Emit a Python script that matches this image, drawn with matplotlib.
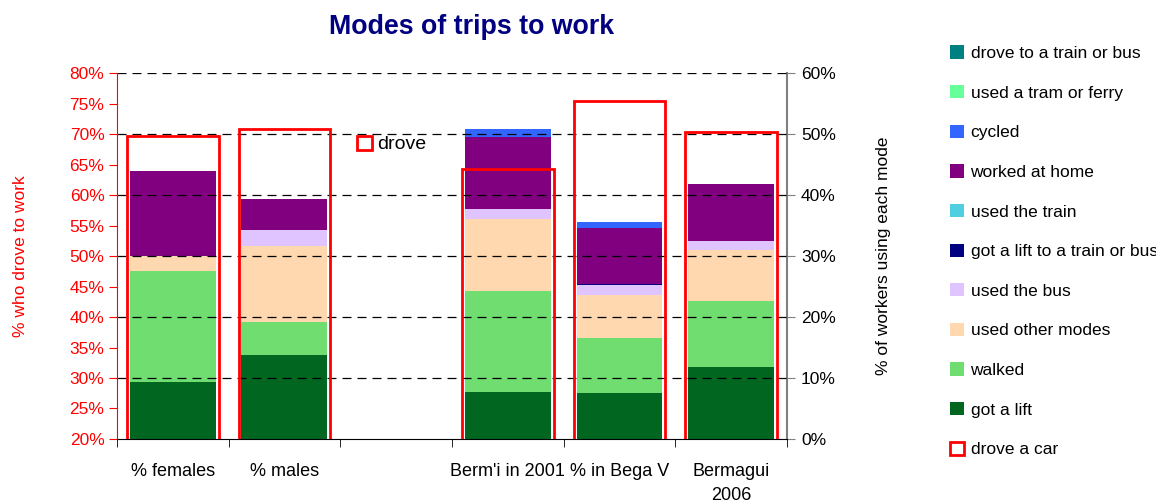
import numpy as np
import matplotlib.pyplot as plt
from matplotlib.patches import Patch

plt.rcParams['font.family'] = ['Liberation Sans', 'DejaVu Sans']

# categories (the third slot is a blank spacer column)
places = ['% females', '% males', '', "Berm'i in 2001", '% in Bega V', 'Bermagui\n2006']

# % who drove a car to work (left axis)
drove_car = [69.7, 70.8, np.nan, 64.3, 75.5, 70.4]

# % of workers using each mode (right axis), bottom of the stack first
got_lift = [9.3, 13.8, 0, 7.7, 7.5, 11.8]
walked = [18.2, 5.4, 0, 16.6, 9.1, 10.8]
other_modes = [2.5, 12.4, 0, 11.8, 7.0, 8.4]
used_bus = [0.0, 2.7, 0, 1.6, 1.6, 1.5]
lift_to_train = [0.0, 0.0, 0, 0.0, 0.2, 0.0]
used_train = [0.0, 0.0, 0, 0.0, 0.0, 0.0]
worked_home = [13.9, 5.0, 0, 11.9, 9.2, 9.3]
cycled = [0.0, 0.0, 0, 1.2, 1.0, 0.0]
tram_ferry = [0.0, 0.0, 0, 0.0, 0.0, 0.0]
drove_to_train = [0.0, 0.0, 0, 0.0, 0.0, 0.0]

modes = [
    ('got a lift', got_lift, '#006620'),
    ('walked', walked, '#70DD70'),
    ('used other modes', other_modes, '#FFD8B0'),
    ('used the bus', used_bus, '#E0C4FF'),
    ('got a lift to a train or bus', lift_to_train, '#000080'),
    ('used the train', used_train, '#4FCFDF'),
    ('worked at home', worked_home, '#800080'),
    ('cycled', cycled, '#3366FF'),
    ('used a tram or ferry', tram_ferry, '#66FF99'),
    ('drove to a train or bus', drove_to_train, '#008080'),
]

fig = plt.figure(figsize=(11.56, 5.04), dpi=100)
ax = fig.add_axes([0.1012, 0.129, 0.5796, 0.726])
ax2 = ax.twinx()
x = np.arange(len(places))

# stacked modes on the right axis
bottom = np.zeros(len(places))
handles = []
for name, vals, col in modes:
    vals = np.array(vals, dtype=float)
    ax2.bar(x, vals, bottom=bottom, width=0.77, color=col, edgecolor='none')
    bottom += vals
    handles.append(Patch(facecolor=col, edgecolor='none', label=name))
ax2.set_ylim(0, 60)
ax2.set_yticks(np.arange(0, 61, 10))
ax2.set_yticklabels([f'{v}%' for v in range(0, 61, 10)], fontsize=12.5)
ax2.set_ylabel('% of workers using each mode', fontsize=12.5, labelpad=29)
ax2.tick_params(axis='y', direction='out', length=6, color='gray', pad=4)
ax2.spines['right'].set_color('gray')
ax2.spines['right'].set_linewidth(1.5)
for s in ['top', 'left', 'bottom']:
    ax2.spines[s].set_visible(False)

# drove a car: red outlines on the left axis, drawn above the stacks
ax.set_zorder(ax2.get_zorder() + 1)
ax.patch.set_visible(False)
ax.bar(x, drove_car, width=0.82, fill=False, edgecolor='red', linewidth=2, zorder=3)
ax.set_ylim(20, 80)
ax.set_xlim(-0.5, len(places) - 0.5)
ax.set_yticks(np.arange(20, 81, 5))
ax.set_yticklabels([f'{v}%' for v in range(20, 81, 5)], fontsize=12.5, color='red')
ax.tick_params(axis='y', direction='out', length=6, color='red', pad=3)
ax.set_ylabel('% who drove to work', fontsize=12.5, color='red', labelpad=30)
ax.spines['left'].set_color('red')
ax.spines['top'].set_visible(False)
ax.spines['right'].set_visible(False)
for g in range(30, 81, 10):
    ax.axhline(g, color='black', linestyle=(0, (7.2, 4.8)), linewidth=0.9, zorder=0)

# category labels centred, tick marks between categories
ax.set_xticks(x)
ax.set_xticklabels(places, fontsize=13, linespacing=1.55)
ax.tick_params(axis='x', which='major', length=0, pad=17)
ax.set_xticks(np.arange(-0.5, len(places), 1), minor=True)
ax.tick_params(axis='x', which='minor', length=6, direction='out', color='black')

fig.text(0.408, 0.946, 'Modes of trips to work', fontsize=19.3, fontweight='bold',
         color='#000080', ha='center', va='center')

ax.legend(handles=[Patch(facecolor='white', edgecolor='red', linewidth=2, label='drove')],
          loc='upper left', bbox_to_anchor=(0.332, 0.877), frameon=False, fontsize=14,
          handlelength=0.75, handleheight=0.75, handletextpad=0.3)

handles = handles[::-1] + [Patch(facecolor='white', edgecolor='red', linewidth=2, label='drove a car')]
fig.legend(handles=handles, loc='upper left', bbox_to_anchor=(0.808, 0.941), frameon=False,
           fontsize=12.5, handlelength=0.8, handleheight=0.8, handletextpad=0.4, labelspacing=1.38)

fig.savefig('out.png', dpi=100)
